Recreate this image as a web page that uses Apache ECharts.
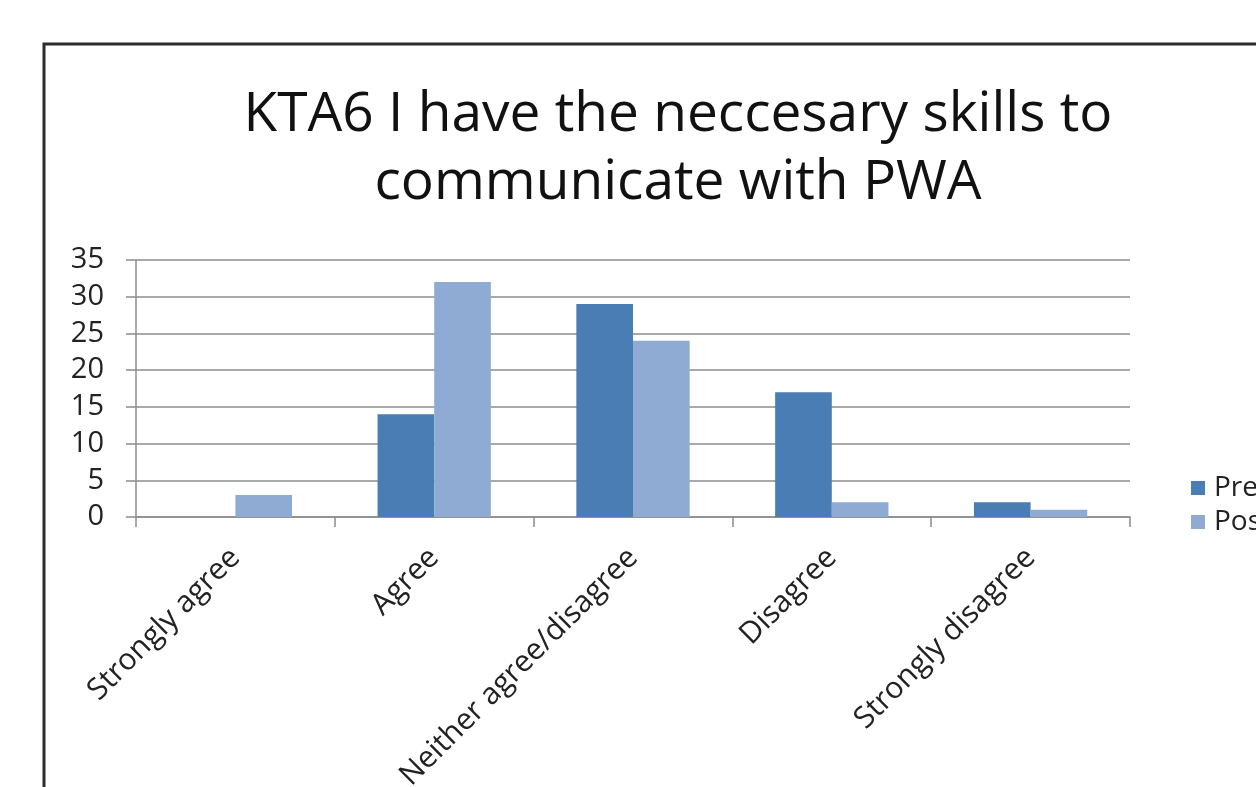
<!DOCTYPE html>
<html>
<head>
<meta charset="utf-8">
<script src="https://cdn.jsdelivr.net/npm/echarts@6/dist/echarts.min.js"></script>
<style>
html,body{margin:0;padding:0;background:#fff;}
#chart{width:1256px;height:787px;}
</style>
</head>
<body>
<div id="chart"></div>
<script>
const titleText = "KTA6 I have the neccesary skills to\ncommunicate with PWA";
const categories = ["Strongly agree", "Agree", "Neither agree/disagree", "Disagree", "Strongly disagree"];
const seriesNames = ["Pre", "Post"];
const preValues = [0, 14, 29, 17, 2];
const postValues = [3, 32, 24, 2, 1];
const yTicks = [0, 5, 10, 15, 20, 25, 30, 35];

const FONT = "Open Sans";
const chart = echarts.init(document.getElementById('chart'));
chart.setOption({
  backgroundColor: '#ffffff',
  animation: false,
  graphic: [{
    type: 'rect',
    shape: {x: 44, y: 44, width: 1400, height: 900},
    style: {fill: 'none', stroke: '#2b2b2b', lineWidth: 3},
    z: 100
  }],
  title: {
    text: titleText,
    left: 673,
    textAlign: 'center',
    top: 76,
    textStyle: {fontFamily: FONT, fontSize: 55, fontWeight: 'normal', color: '#111', lineHeight: 68}
  },
  legend: {
    orient: 'vertical',
    left: 1186,
    top: 469,
    itemWidth: 14,
    itemHeight: 14,
    itemGap: 6,
    icon: 'rect',
    textStyle: {fontFamily: FONT, fontSize: 28, color: '#222', padding: [0,0,0,4]},
    data: seriesNames
  },
  grid: {left: 136, right: 126, top: 260, bottom: 270, containLabel: false, outerBoundsMode: 'none'},
  xAxis: {
    type: 'category',
    data: categories,
    axisLine: {lineStyle: {color: '#8c8c8c', width: 1.5}},
    axisTick: {show: true, alignWithLabel: false, length: 10, lineStyle: {color: '#8c8c8c', width: 1.5}},
    axisLabel: {rotate: 45, fontFamily: FONT, fontSize: 30, color: '#222', margin: 36, interval: 0}
  },
  yAxis: {
    type: 'value',
    min: 0,
    max: 35,
    interval: 5,
    axisLine: {show: true, lineStyle: {color: '#8c8c8c', width: 1.5}},
    axisTick: {show: true, inside: false, length: 10, lineStyle: {color: '#8c8c8c', width: 1.5}},
    splitLine: {show: true, lineStyle: {color: '#8c8c8c', width: 1.5}},
    axisLabel: {fontFamily: FONT, fontSize: 29, color: '#222', margin: 32,
      formatter: function (v) { return yTicks.indexOf(v) >= 0 ? String(v) : ''; }}
  },
  series: [
    {name: seriesNames[0], type: 'bar', data: preValues, barGap: '0%', barCategoryGap: '43%',
     itemStyle: {color: '#4a7db3'}},
    {name: seriesNames[1], type: 'bar', data: postValues, barGap: '0%', barCategoryGap: '43%',
     itemStyle: {color: '#8fabd3'}}
  ]
});
</script>
</body>
</html>
